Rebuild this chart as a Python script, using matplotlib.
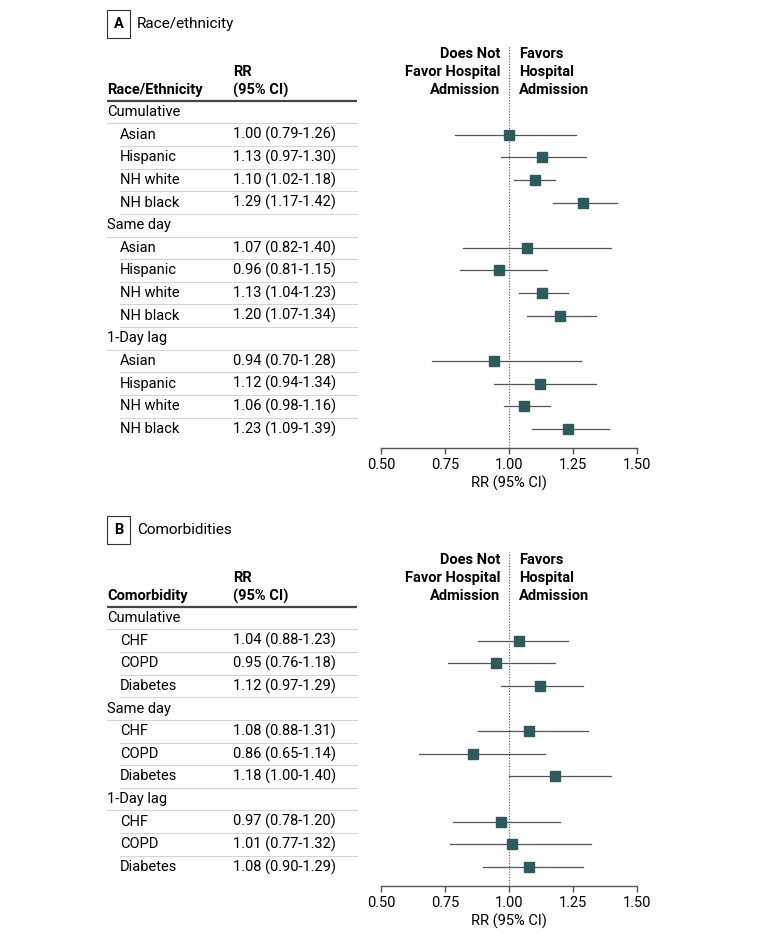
import matplotlib
matplotlib.use('Agg')
import matplotlib.pyplot as plt
from matplotlib.transforms import blended_transform_factory

plt.rcParams['font.family'] = ['Roboto', 'DejaVu Sans']

# Panel A: Race/ethnicity
a_groups = ['Cumulative', 'Same day', '1-Day lag']
a_items = ['Asian', 'Hispanic', 'NH white', 'NH black']
a_rr = [[1.00, 1.13, 1.10, 1.29], [1.07, 0.96, 1.13, 1.20], [0.94, 1.12, 1.06, 1.23]]
a_lo = [[0.79, 0.97, 1.02, 1.17], [0.82, 0.81, 1.04, 1.07], [0.70, 0.94, 0.98, 1.09]]
a_hi = [[1.26, 1.30, 1.18, 1.42], [1.40, 1.15, 1.23, 1.34], [1.28, 1.34, 1.16, 1.39]]

# Panel B: Comorbidities
b_groups = ['Cumulative', 'Same day', '1-Day lag']
b_items = ['CHF', 'COPD', 'Diabetes']
b_rr = [[1.04, 0.95, 1.12], [1.08, 0.86, 1.18], [0.97, 1.01, 1.08]]
b_lo = [[0.88, 0.76, 0.97], [0.88, 0.65, 1.00], [0.78, 0.77, 0.90]]
b_hi = [[1.23, 1.18, 1.29], [1.31, 1.14, 1.40], [1.20, 1.32, 1.29]]

x_ticks = [0.50, 0.75, 1.00, 1.25, 1.50]

W, H = 780, 939
ROW = 22.64
FS = 10.5
MARK = '#2d5a5a'
LINE = '#555555'

fig = plt.figure(figsize=(W / 100, H / 100), dpi=100)


def fx(px):
    return px / W


def fy(px):
    return 1 - px / H


def draw_panel(off, letter, title, col_name, groups, items, rr, lo, hi):
    n = len(groups) * (len(items) + 1)
    y0 = 112 + off
    top_px = 46 + off
    axis_px = y0 + (n - 1) * ROW + 19
    ax = fig.add_axes([fx(381), fy(axis_px), fx(637) - fx(381), (axis_px - top_px) / H])
    ax.set_xlim(0.5, 1.5)
    ax.set_ylim((axis_px - y0) / ROW, (top_px - y0) / ROW)
    tr = blended_transform_factory(fig.transFigure, ax.transData)

    # header
    fig.text(fx(118.5), fy(24 + off), letter, ha='center', va='center', fontsize=FS,
             fontweight='bold',
             bbox=dict(boxstyle='square,pad=0.45', fc='white', ec='#333333', lw=0.8))
    fig.text(fx(137), fy(24 + off), title, ha='left', va='center', fontsize=11)
    ax.text(fx(107), (90 - 112) / ROW, col_name, transform=tr, ha='left', va='center',
            fontsize=FS, fontweight='bold')
    ax.text(fx(233), (72 - 112) / ROW, 'RR', transform=tr, ha='left', va='center',
            fontsize=FS, fontweight='bold')
    ax.text(fx(233), (90 - 112) / ROW, '(95% CI)', transform=tr, ha='left', va='center',
            fontsize=FS, fontweight='bold')
    ax.plot([fx(107), fx(357)], [-0.5, -0.5], transform=tr, color='#444444', lw=1.6,
            clip_on=False, solid_capstyle='butt')
    ax.text(fx(500), (72 - 112) / ROW, 'Does Not\nFavor Hospital\nAdmission', transform=tr,
            ha='right', va='center', fontsize=FS, fontweight='bold', linespacing=1.32,
            multialignment='right')
    ax.text(fx(519), (72 - 112) / ROW, 'Favors\nHospital\nAdmission', transform=tr,
            ha='left', va='center', fontsize=FS, fontweight='bold', linespacing=1.32)

    # rows
    i = 0
    for g, grp in enumerate(groups):
        ax.text(fx(107), i, grp, transform=tr, ha='left', va='center', fontsize=FS)
        ax.plot([fx(107), fx(357)], [i + 0.5, i + 0.5], transform=tr, color='#d4d4d4',
                lw=0.8, clip_on=False)
        i += 1
        for k, item in enumerate(items):
            ax.text(fx(120), i, item, transform=tr, ha='left', va='center', fontsize=FS)
            ax.text(fx(233), i, f'{rr[g][k]:.2f} ({lo[g][k]:.2f}-{hi[g][k]:.2f})',
                    transform=tr, ha='left', va='center', fontsize=FS)
            if i < n - 1:
                ax.plot([fx(120), fx(357)], [i + 0.5, i + 0.5], transform=tr,
                        color='#d4d4d4', lw=0.8, clip_on=False)
            ax.plot([lo[g][k], hi[g][k]], [i, i], color=LINE, lw=0.9, zorder=3)
            ax.plot(rr[g][k], i, marker='s', ms=6.5, color=MARK, mec=MARK, zorder=4)
            i += 1

    ax.axvline(1.0, color=LINE, lw=0.8, ls=(0, (1, 1.5)), zorder=2)
    for s in ['left', 'right', 'top']:
        ax.spines[s].set_visible(False)
    ax.spines['bottom'].set_color(LINE)
    ax.spines['bottom'].set_linewidth(1.0)
    ax.set_yticks([])
    ax.set_xticks(x_ticks)
    ax.set_xticklabels([f'{t:.2f}' for t in x_ticks], fontsize=FS)
    ax.tick_params(axis='x', length=4, width=1.0, color=LINE, pad=3)
    ax.set_xlabel('RR (95% CI)', fontsize=FS, labelpad=3)
    ax.patch.set_visible(False)
    return ax


draw_panel(0, 'A', 'Race/ethnicity', 'Race/Ethnicity', a_groups, a_items, a_rr, a_lo, a_hi)
draw_panel(506, 'B', 'Comorbidities', 'Comorbidity', b_groups, b_items, b_rr, b_lo, b_hi)

fig.savefig('out.png', dpi=100)
